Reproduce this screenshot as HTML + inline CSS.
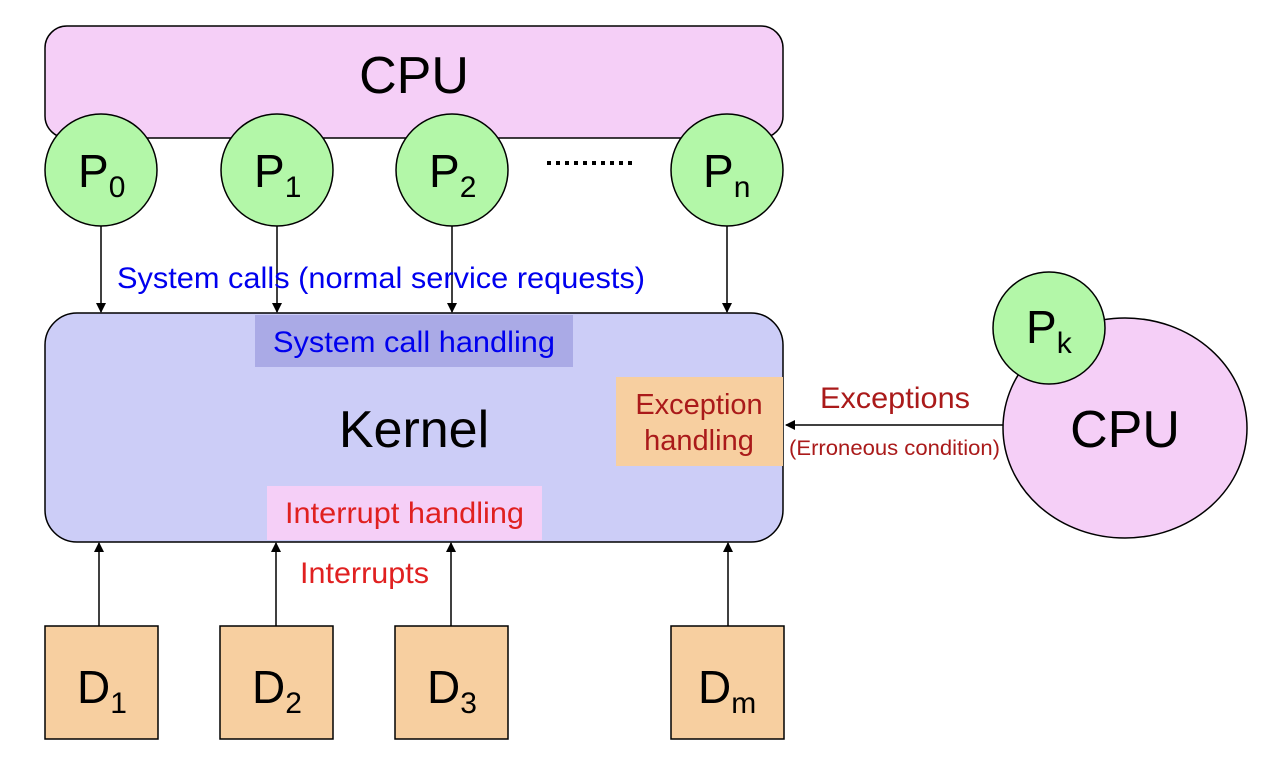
<!DOCTYPE html>
<html><head><meta charset="utf-8"><style>
html,body{margin:0;padding:0;background:#fff;}
svg{display:block;}
text{font-family:"Liberation Sans",Arial,sans-serif;}
</style></head><body>
<svg width="1280" height="769" viewBox="0 0 1280 769" xmlns="http://www.w3.org/2000/svg">
<defs>
<marker id="ah" markerWidth="10" markerHeight="10" refX="9" refY="5" orient="auto" markerUnits="userSpaceOnUse">
<path d="M0,0 L10,5 L0,10 z" fill="#000"/>
</marker>
</defs>
<rect x="45" y="26" width="738" height="112" rx="22" fill="#f5cff7" stroke="#000" stroke-width="1.5"/>
<text x="414" y="93" font-size="52" text-anchor="middle">CPU</text>
<g fill="#b3f7a8" stroke="#000" stroke-width="1.5">
<circle cx="101" cy="170" r="56"/>
<circle cx="277" cy="170" r="56"/>
<circle cx="452" cy="170" r="56"/>
<circle cx="727" cy="170" r="56"/>
</g>
<g font-size="46">
<text x="78" y="187">P<tspan font-size="30" dy="10">0</tspan></text>
<text x="254" y="187">P<tspan font-size="30" dy="10">1</tspan></text>
<text x="429" y="187">P<tspan font-size="30" dy="10">2</tspan></text>
<text x="703" y="187">P<tspan font-size="30" dy="10">n</tspan></text>
</g>
<line x1="547" y1="163" x2="633" y2="163" stroke="#000" stroke-width="4" stroke-dasharray="4,5"/>
<g stroke="#000" stroke-width="1.5" marker-end="url(#ah)">
<line x1="101" y1="226" x2="101" y2="312"/>
<line x1="277" y1="226" x2="277" y2="312"/>
<line x1="452" y1="226" x2="452" y2="312"/>
<line x1="727" y1="226" x2="727" y2="312"/>
</g>
<text x="117" y="288" font-size="30" fill="#0000ee" textLength="528" lengthAdjust="spacingAndGlyphs">System calls (normal service requests)</text>
<rect x="45" y="313" width="738" height="229" rx="32" fill="#cccdf7" stroke="#000" stroke-width="1.5"/>
<rect x="255" y="315" width="318" height="52" fill="#aaaae6"/>
<text x="273" y="352" font-size="30" fill="#0000ee" textLength="282" lengthAdjust="spacingAndGlyphs">System call handling</text>
<text x="414" y="447" font-size="52" text-anchor="middle">Kernel</text>
<rect x="616" y="377" width="167" height="89" fill="#f7cfa0"/>
<text x="699" y="414" font-size="29" fill="#aa1a1a" text-anchor="middle">Exception</text>
<text x="699" y="450" font-size="29" fill="#aa1a1a" text-anchor="middle">handling</text>
<rect x="267" y="486" width="275" height="54" fill="#f5cff7"/>
<text x="285" y="523" font-size="30" fill="#e02020" textLength="239" lengthAdjust="spacingAndGlyphs">Interrupt handling</text>
<g stroke="#000" stroke-width="1.5" marker-end="url(#ah)">
<line x1="99" y1="626" x2="99" y2="543"/>
<line x1="276" y1="626" x2="276" y2="543"/>
<line x1="451" y1="626" x2="451" y2="543"/>
<line x1="728" y1="626" x2="728" y2="543"/>
</g>
<text x="300" y="583" font-size="30" fill="#e02020" textLength="129" lengthAdjust="spacingAndGlyphs">Interrupts</text>
<g fill="#f7cfa0" stroke="#000" stroke-width="1.5">
<rect x="45" y="626" width="113" height="113"/>
<rect x="220" y="626" width="113" height="113"/>
<rect x="395" y="626" width="113" height="113"/>
<rect x="671" y="626" width="113" height="113"/>
</g>
<g font-size="46">
<text x="77" y="703">D<tspan font-size="30" dy="10">1</tspan></text>
<text x="252" y="703">D<tspan font-size="30" dy="10">2</tspan></text>
<text x="427" y="703">D<tspan font-size="30" dy="10">3</tspan></text>
<text x="698" y="703">D<tspan font-size="30" dy="10">m</tspan></text>
</g>
<ellipse cx="1125" cy="428" rx="122" ry="110" fill="#f5cff7" stroke="#000" stroke-width="1.5"/>
<circle cx="1049" cy="328" r="56" fill="#b3f7a8" stroke="#000" stroke-width="1.5"/>
<text x="1026" y="343" font-size="46">P<tspan font-size="30" dy="10">k</tspan></text>
<text x="1125" y="447" font-size="52" text-anchor="middle">CPU</text>
<line x1="1003" y1="425" x2="786" y2="425" stroke="#000" stroke-width="1.5" marker-end="url(#ah)"/>
<text x="820" y="408" font-size="30" fill="#aa1a1a" textLength="150" lengthAdjust="spacingAndGlyphs">Exceptions</text>
<text x="789" y="455" font-size="21" fill="#aa1a1a" textLength="211" lengthAdjust="spacingAndGlyphs">(Erroneous condition)</text>
</svg>
</body></html>
